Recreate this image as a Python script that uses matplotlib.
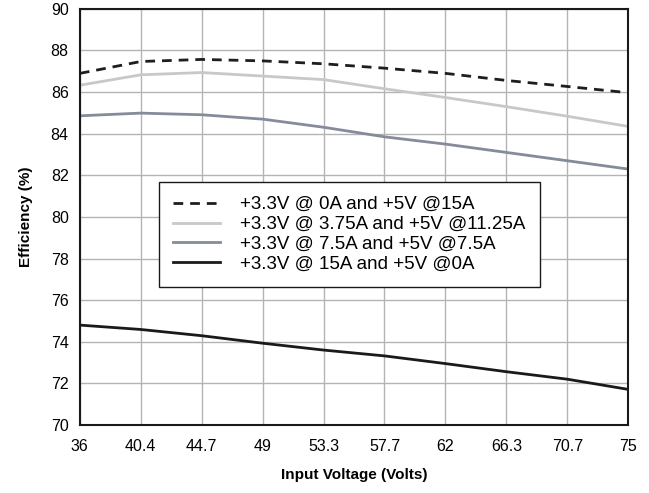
import matplotlib
matplotlib.use("Agg")
import matplotlib.pyplot as plt

plt.rcParams['font.family'] = ['Liberation Sans', 'DejaVu Sans']

voltages = [36, 40.4, 44.7, 49, 53.3, 57.7, 62, 66.3, 70.7, 75]
tick_labels = ["36", "40.4", "44.7", "49", "53.3", "57.7", "62", "66.3", "70.7", "75"]
x_pos = [36 + i * (75 - 36) / 9 for i in range(10)]

eff_0A = [86.9, 87.47, 87.57, 87.5, 87.36, 87.15, 86.9, 86.56, 86.27, 85.97]
eff_375A = [86.33, 86.83, 86.94, 86.77, 86.6, 86.16, 85.74, 85.3, 84.84, 84.35]
eff_75A = [84.86, 84.99, 84.91, 84.7, 84.31, 83.85, 83.5, 83.1, 82.7, 82.3]
eff_15A = [74.8, 74.59, 74.29, 73.93, 73.6, 73.32, 72.95, 72.56, 72.2, 71.71]

labels = ["+3.3V @ 0A and +5V @15A",
          "+3.3V @ 3.75A and +5V @11.25A",
          "+3.3V @ 7.5A and +5V @7.5A",
          "+3.3V @ 15A and +5V @0A"]

fig = plt.figure(figsize=(6.49, 4.93), dpi=100)
ax = fig.add_axes([0.123, 0.138, 0.845, 0.844])

ax.plot(x_pos, eff_0A, color="#1e1e1e", lw=2, ls=(0, (3.5, 2.5)), label=labels[0])
ax.plot(x_pos, eff_375A, color="#c8c8c8", lw=2, label=labels[1])
ax.plot(x_pos, eff_75A, color="#868b9b", lw=2, label=labels[2])
ax.plot(x_pos, eff_15A, color="#1a1a1a", lw=2, label=labels[3])

ax.set_xlim(36, 75)
ax.set_ylim(70, 90)
ax.set_xticks(x_pos)
ax.set_xticklabels(tick_labels)
ax.set_yticks(range(70, 91, 2))
ax.tick_params(axis='x', length=0, labelsize=11.5, pad=10)
ax.tick_params(axis='y', length=0, labelsize=11.5, pad=8)
ax.grid(True, color="#b4b4b4", lw=1)
ax.set_axisbelow(True)
for s in ax.spines.values():
    s.set_linewidth(1.5)
    s.set_color("#1a1a1a")

ax.set_xlabel("Input Voltage (Volts)", fontsize=11, fontweight="bold", labelpad=10)
ax.set_ylabel("Efficiency (%)", fontsize=11, fontweight="bold", labelpad=13)

leg = ax.legend(loc="upper left", bbox_to_anchor=(0.144, 0.584),
                prop={'size': 13.5},
                frameon=True, fancybox=False, edgecolor="#1a1a1a",
                framealpha=1.0,
                handlelength=2.5, handletextpad=1.1, borderpad=0.75,
                labelspacing=0.15, borderaxespad=0)
leg.get_frame().set_linewidth(1.0)

fig.savefig("out.png", dpi=100)
